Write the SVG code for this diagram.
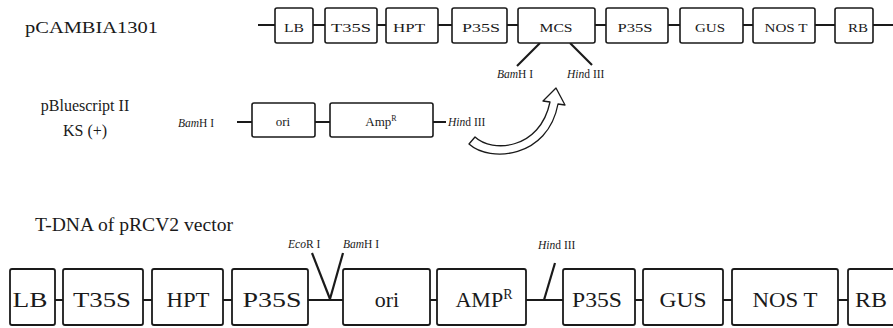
<svg xmlns="http://www.w3.org/2000/svg" width="893" height="328" viewBox="0 0 893 328" font-family="'Liberation Serif','DejaVu Serif',serif">
<style>
text{font-family:'Liberation Serif','DejaVu Serif',serif;fill:#1a1a1a}
.box{fill:#fff;stroke:#1a1a1a;stroke-width:1.6}
.bb{fill:#fff;stroke:#1a1a1a;stroke-width:1.8}
.ln{stroke:#1a1a1a;stroke-width:2.2;fill:none}
.t{font-size:13px;text-anchor:middle}
.b{font-size:22px;text-anchor:middle}
.s{font-size:11.5px}
.i{font-style:italic}
</style>
<rect width="893" height="328" fill="#fff"/>
<g id="labels">
<text x="25" y="33" font-size="17" textLength="133" lengthAdjust="spacingAndGlyphs">pCAMBIA1301</text>
<text x="85" y="111" font-size="16" text-anchor="middle">pBluescript II</text>
<text x="85" y="136" font-size="16" text-anchor="middle">KS (+)</text>
<text x="35" y="231" font-size="18" textLength="198" lengthAdjust="spacingAndGlyphs">T-DNA of pRCV2 vector</text>
</g>
<g id="connectors">
<line class="ln" x1="258" y1="25" x2="893" y2="25"/>
<line class="ln" x1="540" y1="43" x2="517" y2="66"/>
<line class="ln" x1="570" y1="43" x2="592" y2="65"/>
<line class="ln" x1="237" y1="122" x2="446" y2="122"/>
<line class="ln" x1="10" y1="300" x2="893" y2="300"/>
<line class="ln" x1="312" y1="253" x2="330" y2="299"/>
<line class="ln" x1="343" y1="253" x2="330" y2="299"/>
<line class="ln" x1="555" y1="263" x2="544" y2="300"/>
<path d="M469,144 C490,163 548,158 558,104 L565,105 L556,88 L543,101 L550,102 C540,150 492,153 475,137 Z" fill="#fff" stroke="#1a1a1a" stroke-width="1.3" stroke-linejoin="round"/>
</g>
<g id="site-labels" class="s">
<text x="497" y="78"><tspan class="i">Bam</tspan>H I</text>
<text x="567" y="78"><tspan class="i">Hin</tspan>d III</text>
<text x="178" y="127"><tspan class="i">Bam</tspan>H I</text>
<text x="448" y="126"><tspan class="i">Hin</tspan>d III</text>
<text x="288" y="248"><tspan class="i">Eco</tspan>R I</text>
<text x="343" y="248"><tspan class="i">Bam</tspan>H I</text>
<text x="538" y="249"><tspan class="i">Hin</tspan>d III</text>
</g>
<g id="top-LB"><rect class="box" x="275" y="8" width="38" height="35" rx="2"/><text class="t" x="294" y="32" textLength="20" lengthAdjust="spacingAndGlyphs">LB</text></g>
<g id="top-T35S"><rect class="box" x="325" y="8" width="52" height="35" rx="2"/><text class="t" x="351" y="32" textLength="40" lengthAdjust="spacingAndGlyphs">T35S</text></g>
<g id="top-HPT"><rect class="box" x="386" y="8" width="52" height="35" rx="2"/><text class="t" x="409" y="32" textLength="32" lengthAdjust="spacingAndGlyphs">HPT</text></g>
<g id="top-P35S"><rect class="box" x="452" y="8" width="55" height="35" rx="2"/><text class="t" x="481" y="32" textLength="38" lengthAdjust="spacingAndGlyphs">P35S</text></g>
<g id="top-MCS"><rect class="box" x="518" y="8" width="77" height="35" rx="2"/><text class="t" x="556" y="32" textLength="33" lengthAdjust="spacingAndGlyphs">MCS</text></g>
<g id="top-P35S-2"><rect class="box" x="606" y="8" width="62" height="35" rx="2"/><text class="t" x="635" y="32" textLength="35" lengthAdjust="spacingAndGlyphs">P35S</text></g>
<g id="top-GUS"><rect class="box" x="680" y="8" width="63" height="35" rx="2"/><text class="t" x="710" y="32" textLength="30" lengthAdjust="spacingAndGlyphs">GUS</text></g>
<g id="top-NOST"><rect class="box" x="753" y="8" width="62" height="35" rx="2"/><text class="t" x="786" y="32" textLength="43" lengthAdjust="spacingAndGlyphs">NOS T</text></g>
<g id="top-RB"><rect class="box" x="835" y="8" width="38" height="35" rx="2"/><text class="t" x="858" y="32" textLength="20" lengthAdjust="spacingAndGlyphs">RB</text></g>
<g id="pbs-ori"><rect class="box" x="252" y="103" width="63" height="34" rx="2"/><text class="t" x="283" y="126">ori</text></g>
<g id="pbs-amp"><rect class="box" x="330" y="103" width="103" height="34" rx="2"/><text class="t" x="381" y="126">Amp<tspan font-size="8" dy="-5">R</tspan></text></g>
<g id="bot-LB"><rect class="bb" x="10" y="269" width="45" height="56" rx="2"/><text class="b" x="30" y="307" textLength="35" lengthAdjust="spacingAndGlyphs">LB</text></g>
<g id="bot-T35S"><rect class="bb" x="63" y="269" width="80" height="56" rx="2"/><text class="b" x="102" y="307" textLength="58" lengthAdjust="spacingAndGlyphs">T35S</text></g>
<g id="bot-HPT"><rect class="bb" x="152" y="269" width="71" height="56" rx="2"/><text class="b" x="188" y="307" textLength="43" lengthAdjust="spacingAndGlyphs">HPT</text></g>
<g id="bot-P35S"><rect class="bb" x="232" y="269" width="76" height="56" rx="2"/><text class="b" x="272" y="307" textLength="59" lengthAdjust="spacingAndGlyphs">P35S</text></g>
<g id="bot-ori"><rect class="bb" x="343" y="269" width="87" height="56" rx="2"/><text class="b" x="387" y="307">ori</text></g>
<g id="bot-AMPR"><rect class="bb" x="437" y="269" width="89" height="56" rx="2"/><text class="b" x="484" y="307">AMP<tspan font-size="14" dy="-8">R</tspan></text></g>
<g id="bot-P35S-2"><rect class="bb" x="563" y="269" width="72" height="56" rx="2"/><text class="b" x="597" y="307" textLength="50" lengthAdjust="spacingAndGlyphs">P35S</text></g>
<g id="bot-GUS"><rect class="bb" x="643" y="269" width="80" height="56" rx="2"/><text class="b" x="683" y="307" textLength="47" lengthAdjust="spacingAndGlyphs">GUS</text></g>
<g id="bot-NOST"><rect class="bb" x="732" y="269" width="106" height="56" rx="2"/><text class="b" x="785" y="307" textLength="65" lengthAdjust="spacingAndGlyphs">NOS T</text></g>
<g id="bot-RB"><rect class="bb" x="848" y="269" width="52" height="56" rx="2"/><text class="b" x="871" y="307" textLength="32" lengthAdjust="spacingAndGlyphs">RB</text></g>
</svg>
